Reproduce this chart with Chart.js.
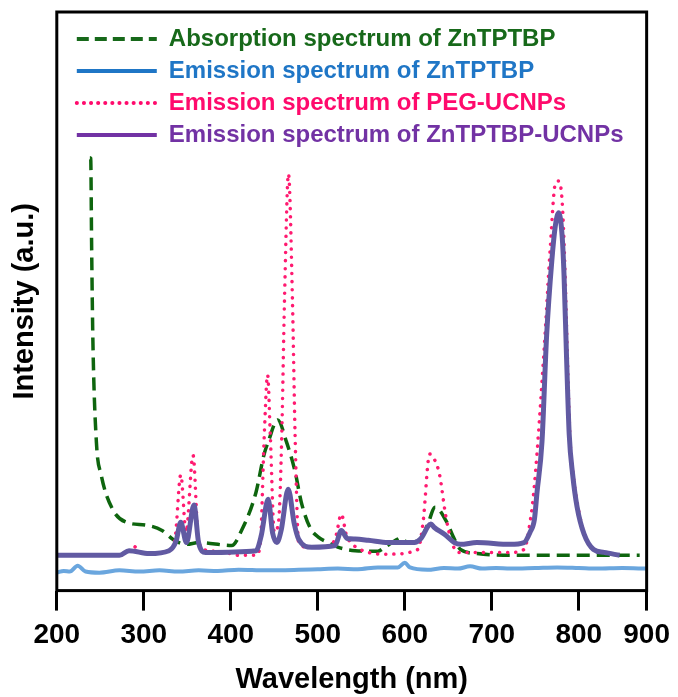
<!DOCTYPE html>
<html>
<head>
<meta charset="utf-8">
<title>Spectra</title>
<script src="https://cdn.jsdelivr.net/npm/chart.js@4.4.1/dist/chart.umd.min.js"></script>
<style>
  html, body { margin: 0; padding: 0; background: #fff; }
  #wrap { width: 678px; height: 697px; }
</style>
</head>
<body>
<div id="wrap"><canvas id="spectra" width="678" height="697"></canvas></div>
<script>
// wavelength (nm) / intensity (a.u.) for each trace
const absWl = [238, 239, 240, 241.5, 245.5, 251, 264, 280, 303, 321, 335, 349, 363, 401, 413, 429, 438, 443, 454, 464, 474, 481, 491, 501, 512, 523, 543, 569, 577, 592, 596, 603, 618, 626, 635, 647, 657, 664, 683, 721, 870];
const absVal = [74.8, 74.7, 60, 43.1, 25.7, 20.0, 14.1, 11.8, 11.3, 10.4, 8.7, 8.0, 8.3, 7.8, 10.6, 17.0, 23.4, 25.7, 29.5, 25.7, 20.5, 15.3, 10.9, 9.2, 8.3, 7.5, 6.9, 6.8, 7.5, 8.9, 9.1, 8.3, 8.9, 11.3, 14.4, 12.2, 8.9, 7.1, 6.4, 6.1, 6.1];

const znWl = [200, 208, 215, 224, 233, 249, 272, 295, 318, 340, 363, 385, 409, 440, 478, 500, 523, 546, 569, 592, 600, 606, 626, 645, 661, 675, 689, 705, 721, 750, 775, 800, 821, 850, 878];
const znVal = [3.1, 3.4, 3.3, 4.3, 3.3, 3.1, 3.5, 3.3, 3.5, 3.3, 3.5, 3.4, 3.6, 3.5, 3.6, 3.7, 3.8, 3.7, 4.0, 4.0, 4.8, 4.0, 3.6, 3.9, 3.8, 4.2, 3.8, 3.9, 3.8, 3.9, 4.0, 3.9, 3.8, 3.9, 3.8];

const pegWl = [200, 272, 283, 289, 296, 306, 329, 336, 342.5, 348.6, 356.6, 363, 375, 394, 409, 429, 434, 438.5, 442.3, 445.4, 450, 455, 458.6, 461.7, 466.3, 470.9, 473.9, 478, 489, 515, 521, 527, 533, 538, 558, 581, 615, 621, 628.6, 634, 640, 647, 653, 661, 683, 721, 737, 744, 749, 760, 767, 773, 777, 781, 784, 787, 790, 794, 799, 806, 817, 829, 845];
const pegVal = [6.1, 6.1, 6.9, 7.6, 6.6, 6.4, 6.9, 9.0, 20.0, 10.1, 23.4, 8.3, 6.9, 6.6, 6.1, 6.1, 8.3, 26.9, 37.3, 26.9, 10.1, 12.0, 26.9, 50.0, 72.0, 50.0, 26.9, 8.3, 7.5, 7.8, 9.5, 13.2, 9.5, 8.3, 6.6, 6.3, 7.1, 11.8, 23.6, 22.7, 20.0, 13.0, 8.9, 6.6, 6.6, 6.6, 7.1, 11.8, 18.2, 41.3, 58.7, 70.3, 70.8, 67.0, 56.0, 40.0, 26.0, 19.5, 14.5, 10.0, 7.1, 6.6, 6.1];

const hybWl = [200, 272, 283, 306, 329, 337, 342.5, 349, 357.7, 363, 371, 429, 435, 443, 448, 453, 458, 466, 473, 478, 493, 520, 527, 534, 543, 558, 581, 611, 618, 630, 634, 646, 657, 664, 683, 721, 737, 744, 749, 752, 757.7, 763, 769, 773, 777, 781, 783, 786, 789, 793, 798, 806, 817, 829, 847];
const hybVal = [6.1, 6.1, 6.9, 6.4, 6.9, 8.5, 11.8, 8.3, 14.8, 8.3, 6.6, 6.9, 9.5, 15.8, 10.0, 8.3, 10.5, 17.5, 11.5, 8.9, 7.5, 7.8, 10.4, 9.0, 8.9, 8.7, 8.3, 8.3, 8.9, 11.5, 10.9, 9.7, 8.3, 8.0, 8.3, 8.0, 8.3, 10.1, 12.3, 17.0, 25.7, 44.0, 57.0, 63.0, 65.3, 61.0, 54.7, 40.0, 27.0, 20.0, 14.5, 9.8, 7.1, 6.6, 6.1];

const xTicks = [200, 300, 400, 500, 600, 700, 800, 878];
const xTickLabels = ['200', '300', '400', '500', '600', '700', '800', '900'];

const seriesNames = [
  'Absorption spectrum of ZnTPTBP',
  'Emission spectrum of ZnTPTBP',
  'Emission spectrum of PEG-UCNPs',
  'Emission spectrum of ZnTPTBP-UCNPs'
];

const pts = (xs, ys) => xs.map((x, i) => ({ x: x, y: ys[i] }));

// legend entries: line sample + coloured text
const legendStyle = [
  { text: '#17691a', line: '#17691a', dash: [12, 6], cap: 'butt', width: 4 },
  { text: '#1f76c6', line: '#1f76c6', dash: [], cap: 'butt', width: 4 },
  { text: '#ff0a6c', line: '#ff0a6c', dash: [0.1, 7], cap: 'round', width: 4 },
  { text: '#7232a4', line: '#7232a4', dash: [], cap: 'butt', width: 4 }
];

const boldFont = (size) => ({ family: "'Liberation Sans', Arial, sans-serif", size: size, weight: 'bold' });

// draws the box around the plot area
const framePlugin = {
  id: 'frame',
  afterDatasetsDraw(chart) {
    const { ctx, chartArea: a } = chart;
    ctx.save();
    ctx.strokeStyle = '#000';
    ctx.lineWidth = 3;
    ctx.strokeRect(a.left, a.top, a.right - a.left, a.bottom - a.top);
    ctx.restore();
  }
};

// nudge the legend a little away from the frame corner
const legendNudge = {
  id: 'legendNudge',
  afterLayout(chart) {
    chart.legend.left += 12;
    chart.legend.top += 19;
  }
};

const ctx = document.getElementById('spectra');

new Chart(ctx, {
  type: 'line',
  data: {
    datasets: [
      {
        label: seriesNames[0],
        data: pts(absWl, absVal),
        borderColor: '#0e650e',
        borderWidth: 3.5,
        borderDash: [13, 7],
        order: 3
      },
      {
        label: seriesNames[1],
        data: pts(znWl, znVal),
        borderColor: '#6aa6de',
        borderWidth: 4,
        order: 4
      },
      {
        label: seriesNames[2],
        data: pts(pegWl, pegVal),
        borderColor: '#ff1a70',
        borderWidth: 3.5,
        borderDash: [0.1, 8],
        borderCapStyle: 'round',
        order: 2
      },
      {
        label: seriesNames[3],
        data: pts(hybWl, hybVal),
        borderColor: '#615aa2',
        borderWidth: 5,
        order: 1
      }
    ]
  },
  options: {
    responsive: false,
    animation: false,
    elements: {
      point: { radius: 0 },
      line: { cubicInterpolationMode: 'monotone', fill: false }
    },
    layout: { padding: { top: 12, right: 28, left: 4, bottom: 0 } },
    scales: {
      x: {
        type: 'linear',
        min: 200,
        max: 878,
        afterBuildTicks: (scale) => {
          scale.ticks = xTicks.map((v) => ({ value: v }));
        },
        ticks: {
          autoSkip: false,
          maxRotation: 0,
          padding: 8,
          color: '#000',
          font: boldFont(28),
          callback: (value, index) => xTickLabels[index]
        },
        grid: {
          drawOnChartArea: false,
          drawTicks: true,
          tickLength: 20,
          lineWidth: 3,
          color: '#000'
        },
        border: { display: false },
        title: {
          display: true,
          text: 'Wavelength (nm)',
          color: '#000',
          font: boldFont(29),
          padding: { top: 2, bottom: 0 }
        }
      },
      y: {
        min: 0,
        max: 100,
        ticks: { display: false },
        grid: { display: false, drawTicks: false },
        border: { display: false },
        title: {
          display: true,
          text: 'Intensity (a.u.)',
          color: '#000',
          font: boldFont(29),
          padding: { top: 4, bottom: 14 }
        }
      }
    },
    plugins: {
      tooltip: { enabled: false },
      legend: {
        position: 'chartArea',
        align: 'start',
        labels: {
          usePointStyle: true,
          pointStyleWidth: 80,
          padding: 8,
          font: boldFont(24),
          generateLabels: () => seriesNames.map((name, i) => ({
            text: name,
            fontColor: legendStyle[i].text,
            strokeStyle: legendStyle[i].line,
            fillStyle: legendStyle[i].line,
            lineWidth: legendStyle[i].width,
            lineDash: legendStyle[i].dash,
            lineCap: legendStyle[i].cap,
            pointStyle: 'line',
            hidden: false,
            datasetIndex: i
          }))
        }
      }
    }
  },
  plugins: [framePlugin, legendNudge]
});
</script>
</body>
</html>
